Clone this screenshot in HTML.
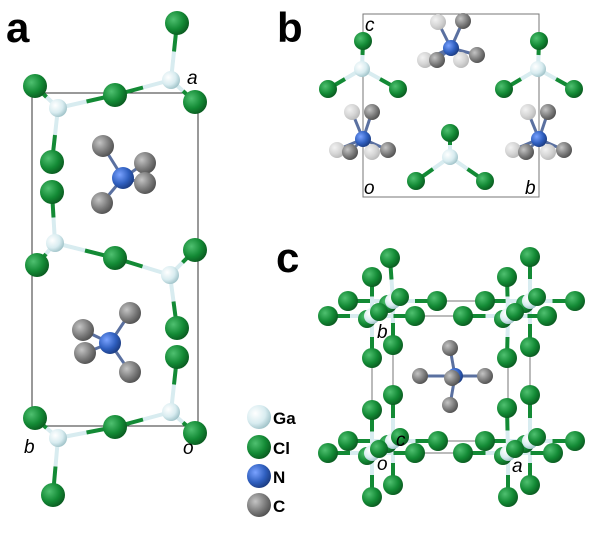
<!DOCTYPE html>
<html><head><meta charset="utf-8"><style>
html,body{margin:0;padding:0;background:#fff;width:600px;height:541px;overflow:hidden}
svg{display:block}
.L{font-family:"Liberation Sans",Arial,sans-serif;font-weight:bold;fill:#000}
.I{font-family:"Liberation Sans",Arial,sans-serif;font-style:italic;fill:#000;font-size:19px}
</style></head><body>
<svg id="s" width="600" height="541" viewBox="0 0 600 541" xmlns="http://www.w3.org/2000/svg">
<defs>
<radialGradient id="gGa" cx="35%" cy="35%" r="70%"><stop offset="0" stop-color="#ffffff"/><stop offset="0.6" stop-color="#d8ecf0"/><stop offset="1" stop-color="#9fc2c8"/></radialGradient>
<radialGradient id="gCl" cx="35%" cy="35%" r="70%"><stop offset="0" stop-color="#4fc070"/><stop offset="0.6" stop-color="#138a35"/><stop offset="1" stop-color="#0a5a20"/></radialGradient>
<radialGradient id="gN" cx="35%" cy="35%" r="70%"><stop offset="0" stop-color="#7aa2ff"/><stop offset="0.6" stop-color="#2f5fbf"/><stop offset="1" stop-color="#1b3b80"/></radialGradient>
<radialGradient id="gC" cx="35%" cy="35%" r="70%"><stop offset="0" stop-color="#c4c4c4"/><stop offset="0.6" stop-color="#7c7c7c"/><stop offset="1" stop-color="#505050"/></radialGradient>
<radialGradient id="gCL" cx="35%" cy="35%" r="70%"><stop offset="0" stop-color="#f2f2f2"/><stop offset="0.6" stop-color="#d4d4d4"/><stop offset="1" stop-color="#b8b8b8"/></radialGradient>
</defs>
<g id="lines" stroke="#333" stroke-width="1" fill="none">
<rect x="32" y="93" width="166" height="333"/>
<rect x="363" y="14" width="176" height="183" stroke="#777"/>
<rect x="372" y="316" width="136" height="137" stroke="#777"/>
<rect x="393" y="301" width="137" height="140" stroke="#777"/>
</g>
<g id="bonds"></g>
<g id="atoms"></g>
<text class="L" x="6" y="42" font-size="42">a</text>
<text class="L" x="277" y="42" font-size="42">b</text>
<text class="L" x="276" y="272" font-size="42">c</text>
<text class="I" x="187" y="84">a</text>
<text class="I" x="24" y="453">b</text>
<text class="I" x="183" y="454">o</text>
<text class="I" x="365" y="31" font-size="16">c</text>
<text class="I" x="364" y="194" font-size="16">o</text>
<text class="I" x="525" y="194" font-size="16">b</text>
<text class="I" x="377" y="338" font-size="17">b</text>
<text class="I" x="396" y="446" font-size="17">c</text>
<text class="I" x="377" y="470" font-size="17">o</text>
<text class="I" x="512" y="472" font-size="17">a</text>
<circle cx="259" cy="417" r="12" fill="url(#gGa)"/>
<circle cx="259" cy="447" r="12" fill="url(#gCl)"/>
<circle cx="259" cy="476" r="12" fill="url(#gN)"/>
<circle cx="259" cy="505" r="12" fill="url(#gC)"/>
<text class="L" x="273" y="424" font-size="17">Ga</text>
<text class="L" x="273" y="454" font-size="17">Cl</text>
<text class="L" x="273" y="483" font-size="17">N</text>
<text class="L" x="273" y="512" font-size="17">C</text>
</svg>
<script>
var NS="http://www.w3.org/2000/svg",B=document.getElementById('bonds'),A=document.getElementById('atoms');
function ln(x1,y1,x2,y2,c,w){var l=document.createElementNS(NS,'line');l.setAttribute('x1',x1);l.setAttribute('y1',y1);l.setAttribute('x2',x2);l.setAttribute('y2',y2);l.setAttribute('stroke',c);l.setAttribute('stroke-width',w||4);B.appendChild(l);}
function bond(g,c,col2,w){var mx=(g[0]+c[0])/2,my=(g[1]+c[1])/2;ln(g[0],g[1],mx,my,'#d8ecf0',w);ln(mx,my,c[0],c[1],col2||'#138a35',w);}
function at(p,t,r){var c=document.createElementNS(NS,'circle');c.setAttribute('cx',p[0]);c.setAttribute('cy',p[1]);c.setAttribute('r',r);c.setAttribute('fill','url(#g'+t+')');A.appendChild(c);}
var GaA=[[171,80],[58,108],[55,243],[170,275],[171,412],[58,438]];
var ClA=[[177,23],[35,86],[115,95],[195,102],[52,162],[52,192],[37,265],[115,258],[195,250],[177,328],[177,357],[35,418],[115,427],[195,433],[53,495]];
var bA=[[0,0],[0,2],[0,3],[1,1],[1,2],[1,4],[2,5],[2,6],[2,7],[3,8],[3,7],[3,9],[4,10],[4,12],[4,13],[5,11],[5,12],[5,14]];
bA.forEach(function(b){bond(GaA[b[0]],ClA[b[1]]);});
function cation(n,cs,light,r){cs.concat(light||[]).forEach(function(c){ln(n[0],n[1],c[0],c[1],'#5a70a0',3);});(light||[]).forEach(function(c){at(c,'CL',r);});at(n,'N',r);cs.forEach(function(c){at(c,'C',r);});}
ClA.forEach(function(c){at(c,'Cl',12);});GaA.forEach(function(g){at(g,'Ga',9);});
cation([123,178],[[103,146],[145,163],[145,183],[102,203]],null,11);
cation([110,343],[[130,313],[83,330],[85,353],[130,372]],null,11);
function unitB(g,cl){cl.forEach(function(c){bond(g,c);});cl.forEach(function(c){at(c,'Cl',9);});at(g,'Ga',8);}
unitB([362,69],[[363,41],[328,89],[398,89]]);
unitB([538,69],[[539,41],[504,89],[574,89]]);
unitB([450,157],[[450,133],[416,181],[485,181]]);
cation([451,48],[[463,21],[437,60],[477,55]],[[438,22],[425,60],[461,60]],8);
cation([363,139],[[372,112],[350,152],[388,150]],[[352,112],[337,150],[372,152]],8);
cation([539,139],[[548,112],[526,152],[564,150]],[[528,112],[513,150],[548,152]],8);
var cG=[[393,301],[530,301],[393,441],[530,441],[372,316],[508,316],[372,453],[508,453]];
var cC=[[[390,258],[393,345],[348,301],[437,301]],[[530,257],[530,347],[485,301],[575,301]],
[[393,395],[393,485],[348,441],[438,441]],[[530,395],[530,485],[485,441],[575,441]],
[[372,277],[372,358],[328,316],[415,316]],[[507,277],[507,358],[463,316],[547,316]],
[[372,410],[372,497],[328,453],[415,453]],[[507,408],[508,497],[463,453],[553,453]]];
for(var i=0;i<8;i++){cC[i].forEach(function(c){bond(cG[i],c);});}
for(var i=0;i<8;i++){cC[i].forEach(function(c){at(c,'Cl',10);});at([cG[i][0]-5,cG[i][1]+3],'Cl',9);at(cG[i],'Ga',8);at([cG[i][0]+7,cG[i][1]-4],'Cl',9);}
cation([455,376],[[450,348],[420,376],[485,376],[450,405],[452,378]],null,8);
</script>
</body></html>
